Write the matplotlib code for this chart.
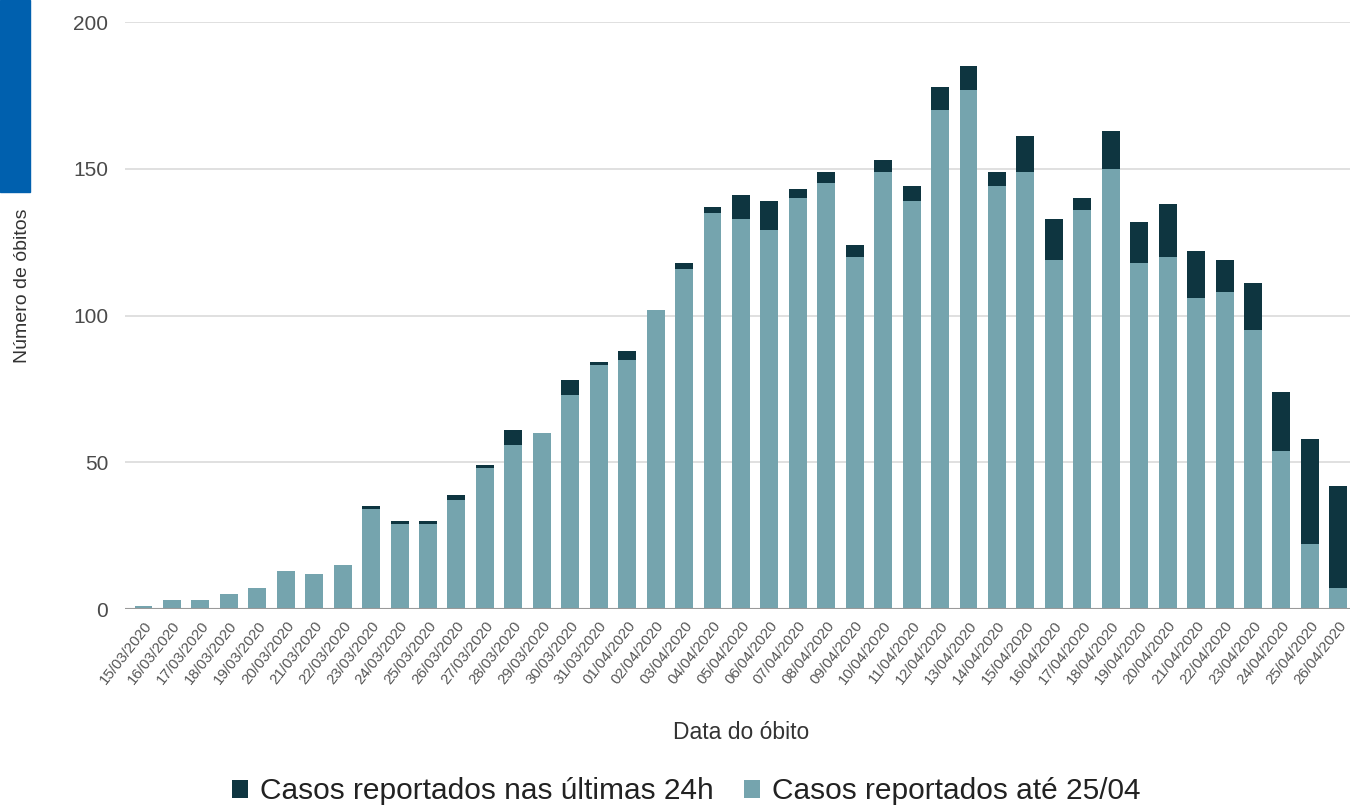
import numpy as np
import matplotlib.pyplot as plt
from matplotlib.patches import Rectangle

# Dates of death
dates = [
    "15/03/2020", "16/03/2020", "17/03/2020", "18/03/2020", "19/03/2020",
    "20/03/2020", "21/03/2020", "22/03/2020", "23/03/2020", "24/03/2020",
    "25/03/2020", "26/03/2020", "27/03/2020", "28/03/2020", "29/03/2020",
    "30/03/2020", "31/03/2020", "01/04/2020", "02/04/2020", "03/04/2020",
    "04/04/2020", "05/04/2020", "06/04/2020", "07/04/2020", "08/04/2020",
    "09/04/2020", "10/04/2020", "11/04/2020", "12/04/2020", "13/04/2020",
    "14/04/2020", "15/04/2020", "16/04/2020", "17/04/2020", "18/04/2020",
    "19/04/2020", "20/04/2020", "21/04/2020", "22/04/2020", "23/04/2020",
    "24/04/2020", "25/04/2020", "26/04/2020",
]

# Cases reported until 25/04
reported_before = [
    1, 3, 3, 5, 7, 13, 12, 15, 34, 29,
    29, 37, 48, 56, 60, 73, 83, 85, 102, 116,
    135, 133, 129, 140, 145, 120, 149, 139, 170, 177,
    144, 149, 119, 136, 150, 118, 120, 106, 108, 95,
    54, 22, 7,
]

# Cases reported in the last 24h
reported_24h = [
    0, 0, 0, 0, 0, 0, 0, 0, 1, 1,
    1, 2, 1, 5, 0, 5, 1, 3, 0, 2,
    2, 8, 10, 3, 4, 4, 4, 5, 8, 8,
    5, 12, 14, 4, 13, 14, 18, 16, 11, 16,
    20, 36, 35,
]

label_24h = "Casos reportados nas últimas 24h"
label_before = "Casos reportados até 25/04"

color_before = "#75a4ae"
color_24h = "#0e3540"


def main():
    plt.rcParams["font.family"] = ["Liberation Sans", "DejaVu Sans"]

    fig = plt.figure(figsize=(13.53, 8.06), dpi=100)
    ax = fig.add_axes([0.0924, 0.2444, 0.9056, 0.7283])

    x = np.arange(len(dates))
    base = np.array(reported_before)
    top = np.array(reported_24h)

    ax.bar(x, base, width=0.63, color=color_before, label=label_before, zorder=2)
    ax.bar(x, top, width=0.63, bottom=base, color=color_24h, label=label_24h, zorder=2)

    ax.set_ylim(0, 200)
    ax.set_xlim(-0.65, len(dates) - 0.58)
    ax.set_yticks([0, 50, 100, 150, 200])
    ax.yaxis.grid(True, color="#dadada", linewidth=1.2, zorder=0)
    ax.axhline(0, color="#9a9a9a", linewidth=1.5, zorder=3)

    for s in ax.spines.values():
        s.set_visible(False)
    ax.tick_params(axis="y", length=0, labelsize=15, labelcolor="#4a4a4a", pad=12)
    ax.tick_params(axis="x", length=0, labelsize=10.8, labelcolor="#555555", pad=7)

    ax.set_xticks(x)
    ax.set_xticklabels(dates, rotation=52, ha="right", rotation_mode="anchor")

    ax.set_ylabel("Número de óbitos", fontsize=14, color="#333333")
    ax.yaxis.set_label_coords(-0.077, 0.55)
    fig.text(0.548, 0.083, "Data do óbito", fontsize=16.5, color="#333333", ha="center")

    handles, labels = ax.get_legend_handles_labels()
    fig.legend(handles[::-1], labels[::-1], loc="center", bbox_to_anchor=(0.507, 0.018),
               ncol=2, frameon=False, fontsize=21.5, handlelength=0.55, handleheight=0.55,
               handletextpad=0.4, columnspacing=1.0, labelcolor="#222222")

    # blue tab at the top-left corner
    fig.patches.append(Rectangle((0, 1 - 192 / 806), 30 / 1353, 192 / 806,
                                 transform=fig.transFigure, color="#0060ae"))

    fig.savefig("out.png", dpi=100)


if __name__ == "__main__":
    main()
